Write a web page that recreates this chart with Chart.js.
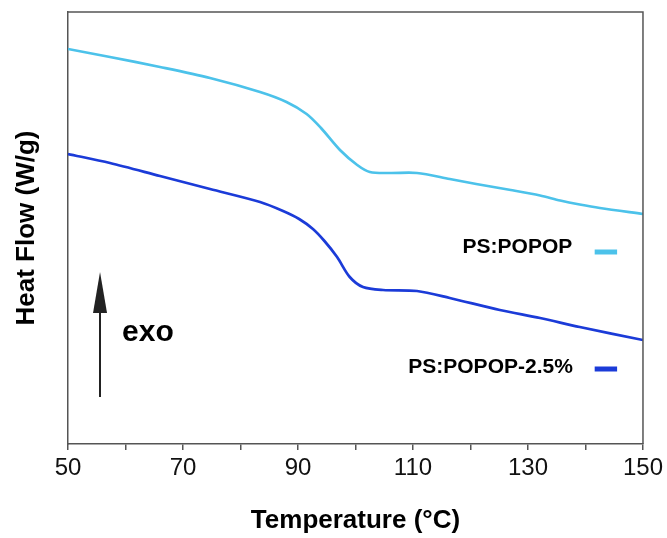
<!DOCTYPE html>
<html>
<head>
<meta charset="utf-8">
<script src="https://cdn.jsdelivr.net/npm/chart.js@4"></script>
<style>
  html, body { margin: 0; padding: 0; background: #fff; }
  canvas { display: block; }
</style>
</head>
<body>
<canvas id="c" width="667" height="538"></canvas>
<script>
// ---- data ----
const temperatureA = [50, 57.3, 66.0, 74.7, 83.4, 88.0, 91.5, 94.0, 97.3, 100.3, 102.5, 106.0, 110.7, 116.4, 121.0, 127.0, 132.1, 135.6, 139.0, 142.5, 150];
const heatFlowPS   = [3.95, 3.87, 3.77, 3.66, 3.52, 3.42, 3.30, 3.16, 2.94, 2.79, 2.72, 2.71, 2.71, 2.65, 2.60, 2.54, 2.485, 2.435, 2.395, 2.36, 2.30];
const temperatureB = [50, 57.3, 66.0, 74.7, 83.4, 87.4, 90.2, 92.6, 94.6, 96.8, 99.0, 101.3, 104.8, 110.7, 116.4, 125.1, 132.1, 139.0, 150];
const heatFlowPS25 = [2.90, 2.81, 2.68, 2.55, 2.42, 2.33, 2.25, 2.15, 2.03, 1.87, 1.67, 1.57, 1.54, 1.53, 1.46, 1.34, 1.26, 1.17, 1.04];
const seriesNames  = ['PS:POPOP', 'PS:POPOP-2.5%'];
const xTickLabels  = [50, 70, 90, 110, 130, 150];

const cyan = '#4cc2ea';
const blue = '#1b3bd8';
const axisColor = '#555555';

const toPts = (xs, ys) => xs.map((x, i) => ({ x: x, y: ys[i] }));

// annotation anchors in data coordinates
const legendItems = [
  { text: seriesNames[0], color: cyan, textX: 137.7, textY: 1.97, dashX0: 141.6, dashX1: 145.5, dashY: 1.92 },
  { text: seriesNames[1], color: blue, textX: 137.8, textY: 0.77, dashX0: 141.6, dashX1: 145.5, dashY: 0.75 }
];
const exoArrow = { x: 55.57, yTip: 1.72, yHead: 1.31, yBase: 0.47, textX: 59.4, textY: 1.11 };

const framePlugin = {
  id: 'frame',
  afterDatasetsDraw(chart) {
    const { ctx, chartArea: a, scales } = chart;
    const xs = scales.x, ys = scales.y;
    ctx.save();
    ctx.strokeStyle = axisColor;
    ctx.lineWidth = 1.5;
    ctx.beginPath();
    ctx.moveTo(a.left, a.top);
    ctx.lineTo(a.right, a.top);
    ctx.lineTo(a.right, a.bottom);
    ctx.stroke();

    // legend
    ctx.font = 'bold 21px "Liberation Sans", Arial, sans-serif';
    ctx.textAlign = 'right';
    ctx.textBaseline = 'middle';
    legendItems.forEach(it => {
      ctx.fillStyle = '#000';
      ctx.fillText(it.text, xs.getPixelForValue(it.textX), ys.getPixelForValue(it.textY));
      ctx.strokeStyle = it.color;
      ctx.lineWidth = 5;
      ctx.beginPath();
      ctx.moveTo(xs.getPixelForValue(it.dashX0), ys.getPixelForValue(it.dashY));
      ctx.lineTo(xs.getPixelForValue(it.dashX1), ys.getPixelForValue(it.dashY));
      ctx.stroke();
    });

    // exo arrow
    const ax = xs.getPixelForValue(exoArrow.x);
    const tip = ys.getPixelForValue(exoArrow.yTip);
    const head = ys.getPixelForValue(exoArrow.yHead);
    const base = ys.getPixelForValue(exoArrow.yBase);
    ctx.strokeStyle = '#222';
    ctx.lineWidth = 2;
    ctx.beginPath();
    ctx.moveTo(ax, base);
    ctx.lineTo(ax, head);
    ctx.stroke();
    ctx.fillStyle = '#222';
    ctx.beginPath();
    ctx.moveTo(ax, tip);
    ctx.lineTo(ax - 7, head);
    ctx.lineTo(ax + 7, head);
    ctx.closePath();
    ctx.fill();
    ctx.fillStyle = '#000';
    ctx.font = 'bold 30px "Liberation Sans", Arial, sans-serif';
    ctx.textAlign = 'left';
    ctx.textBaseline = 'middle';
    ctx.fillText('exo', xs.getPixelForValue(exoArrow.textX), ys.getPixelForValue(exoArrow.textY));
    ctx.restore();
  }
};

new Chart(document.getElementById('c'), {
  type: 'line',
  data: {
    datasets: [
      { label: seriesNames[0], data: toPts(temperatureA, heatFlowPS), borderColor: cyan, borderWidth: 2.7, pointRadius: 0, tension: 0.3, fill: false },
      { label: seriesNames[1], data: toPts(temperatureB, heatFlowPS25), borderColor: blue, borderWidth: 2.7, pointRadius: 0, tension: 0.3, fill: false }
    ]
  },
  options: {
    responsive: false,
    animation: false,
    devicePixelRatio: 1,
    layout: { padding: { top: 12, right: 24, left: 0, bottom: 0 } },
    plugins: { legend: { display: false }, tooltip: { enabled: false } },
    scales: {
      x: {
        type: 'linear',
        min: 50, max: 150,
        afterFit(s) { s.height = 94; },
        ticks: {
          stepSize: 10,
          autoSkip: false,
          maxRotation: 0,
          padding: 4,
          color: '#111',
          font: { family: '"Liberation Sans", Arial, sans-serif', size: 24 },
          callback: (v) => xTickLabels.includes(v) ? String(v) : ''
        },
        grid: { drawOnChartArea: false, drawTicks: true, tickLength: 6, color: axisColor, lineWidth: 1.5 },
        border: { display: true, color: axisColor, width: 1.5 },
        title: {
          display: true,
          text: 'Temperature (°C)',
          color: '#000',
          font: { family: '"Liberation Sans", Arial, sans-serif', size: 26, weight: 'bold' },
          padding: { top: 0, bottom: 2 }
        }
      },
      y: {
        type: 'linear',
        min: 0, max: 4.32,
        afterFit(s) { s.width = 68; },
        ticks: { display: false },
        grid: { display: false },
        border: { display: true, color: axisColor, width: 1.5 },
        title: {
          display: true,
          text: 'Heat Flow (W/g)',
          color: '#000',
          font: { family: '"Liberation Sans", Arial, sans-serif', size: 26, weight: 'bold' },
          padding: { top: 11, bottom: 0 }
        }
      }
    }
  },
  plugins: [framePlugin]
});
</script>
</body>
</html>
